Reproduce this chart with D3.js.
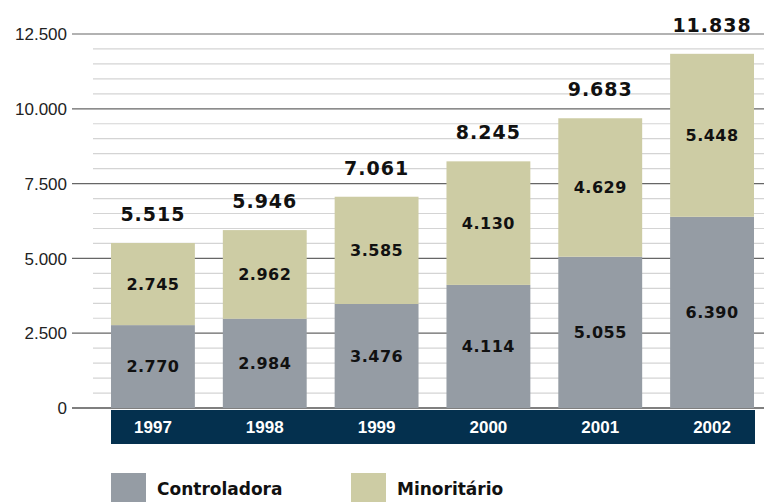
<!DOCTYPE html>
<html>
<head>
<meta charset="utf-8">
<script src="https://cdn.jsdelivr.net/npm/d3@7"></script>
<style>
  body { margin: 0; background: #fff; }
  svg { display: block; }
</style>
</head>
<body>
<div class="chart"></div>
<script>
var width = 764,
    height = 502;

// data
let years = ["1997", "1998", "1999", "2000", "2001", "2002"];
let controladora = [2770, 2984, 3476, 4114, 5055, 6390];
let minoritario = [2745, 2962, 3585, 4130, 4629, 5448];
let totais = [5515, 5946, 7061, 8245, 9683, 11838];
let yTicks = [0, 2500, 5000, 7500, 10000, 12500];
let seriesNames = ["Controladora", "Minoritário"];

let colors = ["#959ca4", "#cdcca4"];
let navy = "#04304e";

let fmt = d3.formatLocale({ decimal: ",", thousands: ".", grouping: [3], currency: ["", ""] }).format(",d");

let svg = d3.select(".chart")
    .append("svg")
    .attr("width", width)
    .attr("height", height);

let x = d3.scaleBand()
    .domain(years)
    .range([111, 754])
    .paddingInner(0.25)
    .paddingOuter(0);

let y = d3.scaleLinear()
    .domain([0, 12500])
    .range([408, 34]);

// minor grid every 500
let minor = d3.range(500, 12500, 500).filter(v => v % 2500 !== 0);
svg.append("g")
    .selectAll("line")
    .data(minor)
    .join("line")
    .attr("x1", 93)
    .attr("x2", width)
    .attr("y1", d => y(d))
    .attr("y2", d => y(d))
    .attr("stroke", "#d4d4d4")
    .attr("stroke-width", 1.2);

// major grid + labels
let axis = svg.append("g");
axis.selectAll("line")
    .data(yTicks)
    .join("line")
    .attr("x1", 72)
    .attr("x2", width)
    .attr("y1", d => y(d))
    .attr("y2", d => y(d))
    .attr("stroke", d => d === 0 ? "#555" : "#666")
    .attr("stroke-width", d => d === 0 ? 1.6 : 1.2);

axis.selectAll("text")
    .data(yTicks)
    .join("text")
    .attr("x", 67)
    .attr("y", d => y(d))
    .attr("dy", "0.36em")
    .attr("text-anchor", "end")
    .style("font-family", "'Liberation Sans', Arial, sans-serif")
    .style("font-size", "17px")
    .style("fill", "#222")
    .text(d => fmt(d));

// stacked bars
let rows = years.map((yr, i) => ({ year: yr, Controladora: controladora[i], "Minoritário": minoritario[i], total: totais[i] }));
let stacked = d3.stack().keys(seriesNames)(rows);

let layers = svg.append("g")
    .selectAll("g")
    .data(stacked)
    .join("g")
    .attr("fill", (d, i) => colors[i]);

layers.selectAll("rect")
    .data(d => d)
    .join("rect")
    .attr("x", d => x(d.data.year))
    .attr("width", x.bandwidth())
    .attr("y", d => y(d[1]))
    .attr("height", d => y(d[0]) - y(d[1]));

layers.selectAll("text")
    .data(d => d)
    .join("text")
    .attr("x", d => x(d.data.year) + x.bandwidth() / 2)
    .attr("y", d => (y(d[0]) + y(d[1])) / 2)
    .attr("dy", "0.36em")
    .attr("text-anchor", "middle")
    .style("font-family", "'DejaVu Sans', sans-serif")
    .style("font-weight", "bold")
    .style("font-size", "16px")
    .style("letter-spacing", "0.5px")
    .style("fill", "#111")
    .text(d => fmt(d[1] - d[0]));

// totals
svg.append("g")
    .selectAll("text")
    .data(rows)
    .join("text")
    .attr("x", d => x(d.year) + x.bandwidth() / 2)
    .attr("y", d => y(d.total) - 22)
    .attr("text-anchor", "middle")
    .style("font-family", "'DejaVu Sans', sans-serif")
    .style("font-weight", "bold")
    .style("font-size", "19px")
    .style("letter-spacing", "1px")
    .style("fill", "#111")
    .text(d => fmt(d.total));

// year band
svg.append("rect")
    .attr("x", 111)
    .attr("y", 410)
    .attr("width", 755 - 111)
    .attr("height", 34)
    .attr("fill", navy);

svg.append("g")
    .selectAll("text")
    .data(years)
    .join("text")
    .attr("x", d => x(d) + x.bandwidth() / 2)
    .attr("y", 427)
    .attr("dy", "0.36em")
    .attr("text-anchor", "middle")
    .style("font-family", "'Liberation Sans', Arial, sans-serif")
    .style("font-weight", "bold")
    .style("font-size", "17px")
    .style("fill", "#fff")
    .text(d => d);

// legend
let legend = svg.append("g")
    .selectAll("g")
    .data(seriesNames)
    .join("g")
    .attr("transform", (d, i) => `translate(${111 + i * 240}, 473)`);

legend.append("rect")
    .attr("width", 35)
    .attr("height", 29)
    .attr("fill", (d, i) => colors[i]);

legend.append("text")
    .attr("x", 46)
    .attr("y", 16)
    .attr("dy", "0.36em")
    .style("font-family", "'DejaVu Sans', sans-serif")
    .style("font-weight", "bold")
    .style("font-size", "17px")
    .style("fill", "#111")
    .text(d => d);
</script>
</body>
</html>
